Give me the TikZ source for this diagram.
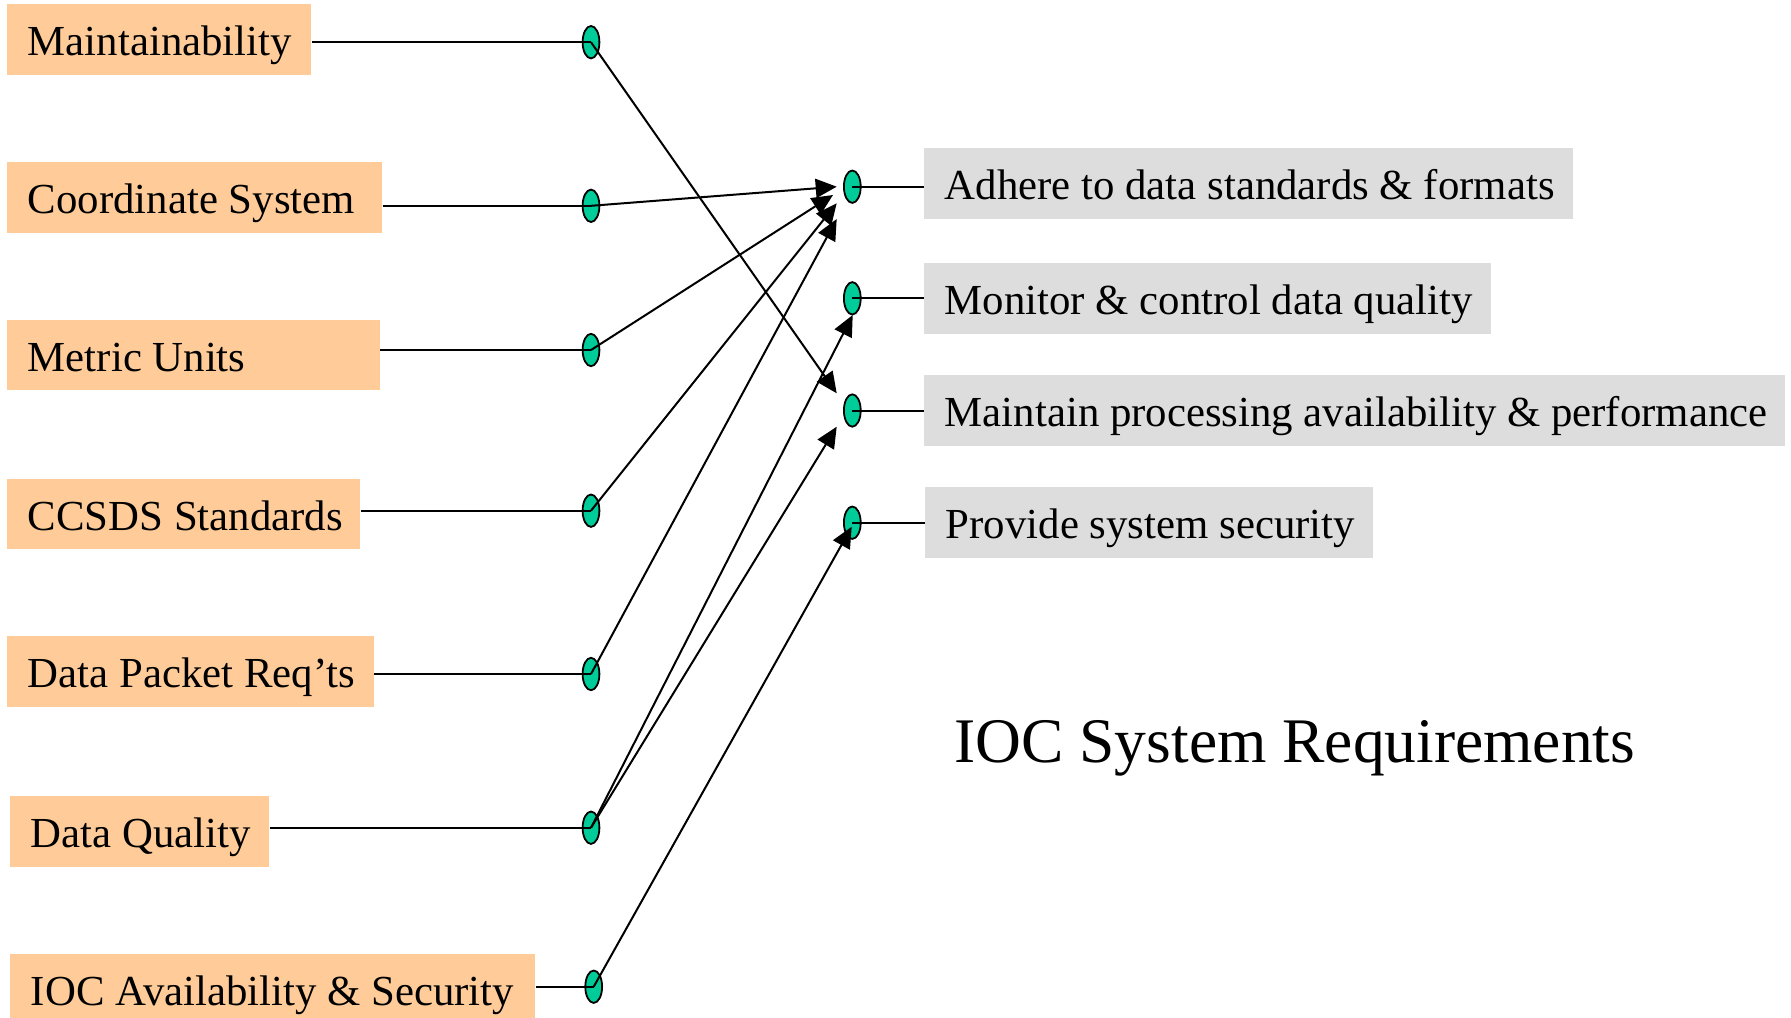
\documentclass[tikz,border=0pt]{standalone}
\usepackage{fontspec}
\setmainfont{Liberation Serif}
\usetikzlibrary{shapes.geometric,arrows.meta,calc}
\definecolor{needorange}{HTML}{FFCC99}
\definecolor{reqgray}{HTML}{DDDDDD}
\definecolor{dotgreen}{HTML}{00CC99}
% left-aligned label of a fixed width inside a box
\newcommand\lbl[2]{\makebox[#1][l]{#2}}

\begin{document}
\begin{tikzpicture}[x=0.5pt,y=-0.5pt,
  every node/.style={font=\fontsize{21.4pt}{25pt}\selectfont},
  tag/.style={anchor=west, minimum height=35.25pt, inner xsep=10.25pt,
    inner ysep=0pt, text height=20pt, text depth=4pt},
  needbox/.style={tag, fill=needorange},
  reqbox/.style={tag, fill=reqgray},
  dot/.style={ellipse, draw=black, line width=0.9pt, fill=dotgreen,
    minimum width=8.4pt, minimum height=16.2pt, inner sep=0pt},
  wire/.style={line width=1pt},
  link/.style={line width=1pt, -{Triangle[length=10.5pt,width=9.5pt]}}
]
\useasboundingbox (0,0) rectangle (1791,1017);

% source items
\node[needbox] (n1) at (7,39.4)   {\lbl{131.35pt}{Maintainability}};
\node[needbox] (n2) at (7,197.5)  {\lbl{166.85pt}{Coordinate System}};
\node[needbox] (n3) at (7,355.2)  {\lbl{165.6pt}{Metric Units}};
\node[needbox] (n4) at (7,514)    {\lbl{155.9pt}{CCSDS Standards}};
\node[needbox] (n5) at (7,671.6)  {\lbl{162.75pt}{Data Packet Req’ts}};
\node[needbox] (n6) at (10,831.3) {\lbl{108.85pt}{Data Quality}};
\node[needbox] (n7) at (10,989.4) {\lbl{241.9pt}{IOC Availability \& Security}};

% requirements
\node[reqbox] (r1) at (924,183.5) {\lbl{303.85pt}{Adhere to data standards \& formats}};
\node[reqbox] (r2) at (924,298.3) {\lbl{262.95pt}{Monitor \& control data quality}};
\node[reqbox] (r3) at (924,410.3) {\lbl{410pt}{Maintain processing availability \& performance}};
\node[reqbox] (r4) at (925,522.3) {\lbl{203.35pt}{Provide system security}};

% connection dots
\node[dot] (d1) at (591,42.2)  {};
\node[dot] (d2) at (591,205.8) {};
\node[dot] (d3) at (591,350)   {};
\node[dot] (d4) at (591,510.7) {};
\node[dot] (d5) at (591,674)   {};
\node[dot] (d6) at (591,827.7) {};
\node[dot] (d7) at (593.7,986.7) {};

\node[dot] (e1) at (852.3,186.7) {};
\node[dot] (e2) at (852.3,298.3) {};
\node[dot] (e3) at (852.3,410.5) {};
\node[dot] (e4) at (852.3,522.7) {};

% arrow tip points beside the requirement dots
\coordinate (t1) at ($(e1)+(-15.6,0)$);
\coordinate (t2) at ($(e1)+(-19.3,8.3)$);
\coordinate (t3) at ($(e1)+(-15.6,16.6)$);
\coordinate (t4) at ($(e1)+(-15.6,32.3)$);
\coordinate (t5) at ($(e3)+(-15.6,-17.2)$);
\coordinate (t6) at ($(e2)+(0.4,16.7)$);
\coordinate (t7) at ($(e3)+(-15.6,16.2)$);
\coordinate (t8) at ($(e4)+(-0.6,4)$);

% stubs from boxes to dots
\foreach \n/\d in {n1/d1,n2/d2,n3/d3,n4/d4,n5/d5,n6/d6,n7/d7}
  \draw[wire] (\n.east |- \d) -- (\d.center);
\foreach \d/\r in {e1/r1,e2/r2,e3/r3,e4/r4}
  \draw[wire] (\d.center) -- (\r.west |- \d);

% traceability arrows
\draw[link] (d1.center) -- (t5);
\draw[link] (d2.center) -- (t1);
\draw[link] (d3.center) -- (t2);
\draw[link] (d4.center) -- (t3);
\draw[link] (d5.center) -- (t4);
\draw[link] (d6.center) -- (t6);
\draw[link] (d6.center) -- (t7);
\draw[link] (d7.center) -- (t8);

% caption
\node[anchor=base west, inner sep=0pt, font=\fontsize{31.75pt}{36pt}\selectfont] (title)
  at (954,762.3) {IOC System Requirements};
\end{tikzpicture}
\end{document}
